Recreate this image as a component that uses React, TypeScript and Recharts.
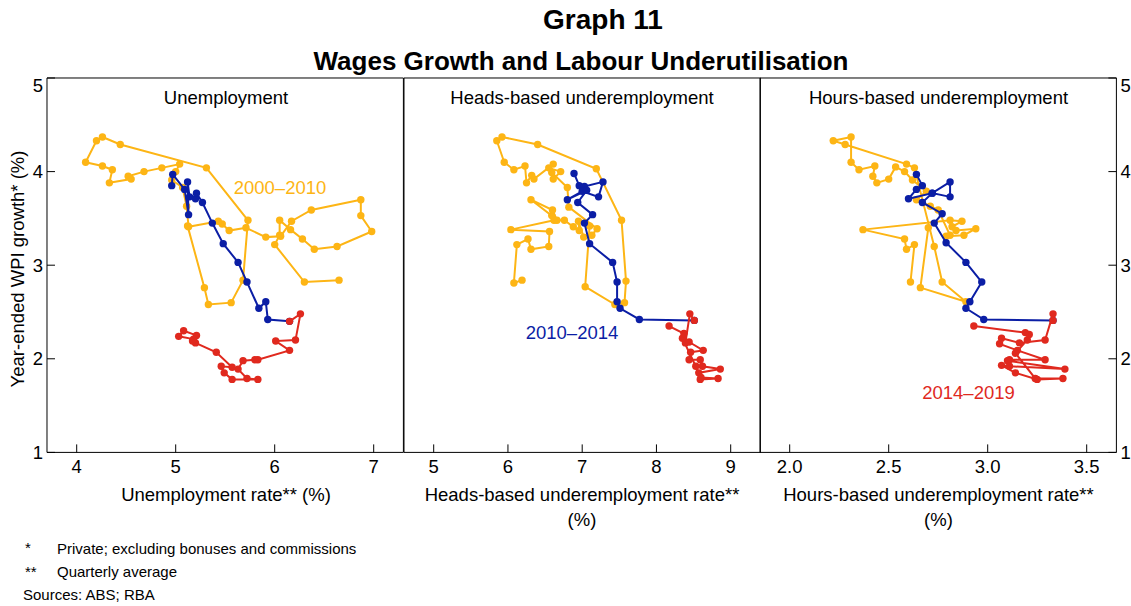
import React from 'react';
import { ScatterChart, Scatter, XAxis, YAxis, ReferenceArea } from 'recharts';

type Pt = { x: number; y: number };
const pts = (a: number[][]): Pt[] => a.map(([x, y]) => ({ x, y }));

const ORANGE = '#FDB515';
const BLUE = '#0B1EA5';
const RED = '#E0291E';
const FONT = 'Arial, "Liberation Sans", Helvetica, sans-serif';

// y axis shared by all panels
const wpiTicks = [1, 2, 3, 4, 5];

// x axis ticks
const unempTicks = [4, 5, 6, 7];
const headsTicks = [5, 6, 7, 8, 9];
const hoursTicks = [2.0, 2.5, 3.0, 3.5];

// Unemployment panel: [rate, WPI growth]
const unemp2000 = pts([
  [6.65, 2.84], [6.3, 2.82], [6.0, 3.22], [6.05, 3.32], [6.05, 3.48], [6.16, 3.38], [6.28, 3.28], [6.4, 3.17],
  [6.63, 3.2], [6.98, 3.36], [6.87, 3.53], [6.87, 3.7], [6.37, 3.59], [6.17, 3.47], [6.06, 3.31], [5.91, 3.3],
  [5.71, 3.4], [5.54, 3.37], [5.47, 3.44], [5.43, 3.47], [5.13, 3.41], [5.11, 3.63], [5.07, 3.83], [4.96, 3.91],
  [5.0, 4.0], [5.04, 4.08], [4.86, 4.04], [4.68, 4.0], [4.52, 3.95], [4.55, 3.92], [4.33, 3.88], [4.36, 4.02],
  [4.26, 4.06], [4.09, 4.1], [4.2, 4.33], [4.26, 4.37], [4.44, 4.29], [5.31, 4.04], [5.73, 3.48], [5.68, 2.84],
  [5.56, 2.6], [5.33, 2.58], [5.29, 2.76], [5.12, 3.42],
]);
const unemp2010 = pts([
  [4.96, 3.85], [4.97, 3.97], [5.09, 3.81], [5.13, 3.54], [5.12, 3.89], [5.14, 3.73], [5.2, 3.71], [5.21, 3.77],
  [5.27, 3.67], [5.37, 3.45], [5.48, 3.23], [5.63, 3.03], [5.72, 2.82], [5.84, 2.54], [5.91, 2.61], [5.93, 2.42],
  [6.15, 2.4],
]);
const unemp2014 = pts([
  [6.15, 2.4], [6.26, 2.48], [6.21, 2.2], [6.01, 2.19], [6.15, 2.09], [5.83, 1.99], [5.8, 1.99], [5.68, 1.98],
  [5.63, 1.89], [5.72, 1.79], [5.83, 1.78], [5.57, 1.78], [5.49, 1.85], [5.46, 1.92], [5.57, 1.91], [5.41, 2.07],
  [5.2, 2.17], [5.17, 2.19], [5.21, 2.25], [5.08, 2.3], [5.03, 2.24], [5.18, 2.21],
]);

// Heads-based underemployment panel
const heads2000 = pts([
  [6.19, 2.84], [6.08, 2.81], [6.12, 3.22], [6.27, 3.28], [6.31, 3.17], [6.55, 3.2], [6.56, 3.36], [6.04, 3.38],
  [6.62, 3.48], [6.59, 3.53], [6.31, 3.7], [6.6, 3.59], [6.66, 3.48], [6.76, 3.48], [6.88, 3.41], [6.96, 3.37],
  [6.95, 3.47], [7.02, 3.3], [7.13, 3.32], [7.2, 3.39], [6.82, 3.62], [6.8, 3.83], [6.59, 3.99], [6.61, 3.92],
  [6.71, 4.0], [6.55, 4.04], [6.61, 4.08], [6.35, 3.92], [6.32, 3.96], [6.25, 3.88], [6.23, 4.06], [6.08, 4.02],
  [5.95, 4.1], [5.85, 4.33], [5.92, 4.37], [6.4, 4.29], [7.19, 4.03], [7.53, 3.48], [7.59, 2.83], [7.57, 2.6],
  [7.44, 2.58], [7.04, 2.77], [7.1, 3.42],
]);
const heads2010 = pts([
  [6.89, 3.98], [6.96, 3.85], [7.03, 3.84], [7.28, 3.89], [7.22, 3.73], [7.0, 3.79], [6.8, 3.7], [7.06, 3.8],
  [6.94, 3.67], [7.14, 3.54], [7.03, 3.45], [7.1, 3.23], [7.41, 3.03], [7.47, 2.82], [7.47, 2.61], [7.51, 2.54],
  [7.77, 2.42], [8.51, 2.41],
]);
const heads2014 = pts([
  [8.51, 2.41], [8.45, 2.48], [8.39, 2.17], [8.44, 2.18], [8.63, 2.09], [8.46, 2.07], [8.44, 1.99], [8.59, 1.99],
  [8.62, 1.92], [8.86, 1.89], [8.57, 1.85], [8.53, 1.92], [8.59, 1.78], [8.83, 1.79], [8.6, 1.8], [8.35, 2.22],
  [8.37, 2.27], [8.17, 2.35],
]);

// Hours-based underemployment panel
const hours2000 = pts([
  [2.61, 2.82], [2.63, 3.22], [2.59, 3.17], [2.58, 3.28], [2.37, 3.38], [2.81, 3.48], [2.87, 3.47], [2.82, 3.41],
  [2.84, 3.37], [2.94, 3.39], [2.88, 3.32], [2.79, 3.31], [2.81, 3.32], [2.75, 3.59], [2.71, 3.63], [2.64, 3.7],
  [2.69, 3.79], [2.62, 3.91], [2.58, 4.0], [2.535, 4.05], [2.5, 3.92], [2.44, 3.88], [2.42, 3.95], [2.43, 4.06],
  [2.35, 4.02], [2.31, 4.1], [2.31, 4.37], [2.22, 4.33], [2.28, 4.29], [2.59, 4.08], [2.63, 4.04], [2.73, 3.2],
  [2.77, 2.82], [2.89, 2.61], [2.66, 2.76], [2.7, 3.4],
]);
const hours2010 = pts([
  [2.64, 3.97], [2.67, 3.85], [2.64, 3.81], [2.6, 3.71], [2.72, 3.77], [2.81, 3.89], [2.81, 3.73], [2.72, 3.77],
  [2.67, 3.67], [2.77, 3.55], [2.73, 3.45], [2.79, 3.24], [2.89, 3.03], [2.97, 2.82], [2.91, 2.61], [2.89, 2.54],
  [2.98, 2.42], [3.33, 2.41],
]);
const hours2014 = pts([
  [3.33, 2.41], [3.33, 2.48], [3.29, 2.2], [3.16, 2.17], [3.07, 2.22], [3.06, 2.16], [3.15, 2.09], [3.29, 1.99],
  [3.11, 1.99], [3.1, 1.98], [3.39, 1.89], [3.11, 1.92], [3.07, 1.93], [3.14, 1.85], [3.25, 1.78], [3.38, 1.79],
  [3.24, 1.79], [3.14, 2.06], [3.2, 2.2], [3.21, 2.26], [3.19, 2.28], [2.93, 2.35],
]);

const dot = (color: string) => (p: any) => <circle cx={p.cx} cy={p.cy} r={3.7} fill={color} />;

const XTick = (p: any) => {
  const { x, y, payload, fmt } = p;
  return (
    <g>
      <line x1={x} x2={x} y1={y} y2={y - 8} stroke="#000" />
      <text x={x} y={y + 21} textAnchor="middle" fontSize={18.5} fontFamily={FONT} fill="#000">
        {fmt(payload.value)}
      </text>
    </g>
  );
};

const YTick = (p: any) => {
  const { x, y, payload, side } = p;
  const dir = side === 'right' ? -1 : 1;
  // the top label sits just inside the frame, as in the original
  const ty = payload.value === 5 ? y + 8 : y;
  return (
    <g>
      <line x1={x} x2={x + dir * 8} y1={y} y2={y} stroke="#000" />
      <text
        x={x - dir * 4}
        y={ty}
        dy="0.35em"
        textAnchor={side === 'right' ? 'start' : 'end'}
        fontSize={18.5}
        fontFamily={FONT}
        fill="#000"
      >
        {payload.value}
      </text>
    </g>
  );
};

interface PanelProps {
  left: number;
  domain: [number, number];
  ticks: number[];
  fmt: (v: number) => string;
  orange: Pt[];
  blue: Pt[];
  red: Pt[];
  yAxis: 'left' | 'right' | 'none';
}

const PW = 356.4;

const Panel: React.FC<PanelProps> = ({ left, domain, ticks, fmt, orange, blue, red, yAxis }) => {
  const margin = {
    top: 10,
    bottom: 10,
    left: yAxis === 'left' ? 10 : 45,
    right: yAxis === 'right' ? 10 : 45,
  };
  return (
    <div style={{ position: 'absolute', left: left - 45, top: 68.3 }}>
      <ScatterChart width={PW + 90} height={424.4} margin={margin}>
        <XAxis
          type="number"
          dataKey="x"
          domain={domain}
          ticks={ticks}
          interval={0}
          allowDataOverflow
          axisLine={false}
          tickLine={false}
          tickSize={0}
          tickMargin={0}
          height={30}
          tick={(p: any) => <XTick {...p} fmt={fmt} />}
        />
        <YAxis
          type="number"
          dataKey="y"
          domain={[1, 5]}
          ticks={wpiTicks}
          interval={0}
          allowDataOverflow
          hide={yAxis === 'none'}
          orientation={yAxis === 'right' ? 'right' : 'left'}
          width={35}
          axisLine={false}
          tickLine={false}
          tickSize={0}
          tickMargin={0}
          tick={(p: any) => <YTick {...p} side={yAxis} />}
        />
        <ReferenceArea x1={domain[0]} x2={domain[1]} y1={1} y2={5} fill="none" stroke="#000" strokeWidth={1} />
        <Scatter data={orange} fill={ORANGE} line={{ stroke: ORANGE, strokeWidth: 2 }} shape={dot(ORANGE)} isAnimationActive={false} />
        <Scatter data={blue} fill={BLUE} line={{ stroke: BLUE, strokeWidth: 2 }} shape={dot(BLUE)} isAnimationActive={false} />
        <Scatter data={red} fill={RED} line={{ stroke: RED, strokeWidth: 2 }} shape={dot(RED)} isAnimationActive={false} />
      </ScatterChart>
    </div>
  );
};

const intFmt = (v: number) => String(v);
const oneDp = (v: number) => v.toFixed(1);

const T = (props: any) => <text fontFamily={FONT} fill="#000" {...props} />;

export default function App() {
  return (
    <div style={{ position: 'absolute', left: 0, top: 0, width: 1131, height: 606, background: '#fff', overflow: 'hidden' }}>
      <Panel left={47.3} domain={[3.7, 7.3]} ticks={unempTicks} fmt={intFmt} orange={unemp2000} blue={unemp2010} red={unemp2014} yAxis="left" />
      <Panel left={47.3 + PW} domain={[4.6, 9.4]} ticks={headsTicks} fmt={intFmt} orange={heads2000} blue={heads2010} red={heads2014} yAxis="none" />
      <Panel left={47.3 + 2 * PW} domain={[1.85, 3.65]} ticks={hoursTicks} fmt={oneDp} orange={hours2000} blue={hours2010} red={hours2014} yAxis="right" />

      <svg width={1131} height={606} style={{ position: 'absolute', left: 0, top: 0, pointerEvents: 'none' }}>
        <T x={603} y={29} textAnchor="middle" fontSize={28} fontWeight="bold">Graph 11</T>
        <T x={581} y={70} textAnchor="middle" fontSize={26} fontWeight="bold">Wages Growth and Labour Underutilisation</T>

        <T x={226} y={104} textAnchor="middle" fontSize={18.5}>Unemployment</T>
        <T x={582} y={104} textAnchor="middle" fontSize={18.5}>Heads-based underemployment</T>
        <T x={938.5} y={104} textAnchor="middle" fontSize={18.5}>Hours-based underemployment</T>

        <T x={280} y={193.5} textAnchor="middle" fontSize={18.5} fill={ORANGE}>2000–2010</T>
        <T x={572} y={338.5} textAnchor="middle" fontSize={18.5} fill={BLUE}>2010–2014</T>
        <T x={968.5} y={399} textAnchor="middle" fontSize={18.5} fill={RED}>2014–2019</T>

        <T x={24} y={269} textAnchor="middle" fontSize={18.5} transform="rotate(-90 24 269)">Year-ended WPI growth* (%)</T>

        <T x={226} y={501} textAnchor="middle" fontSize={18.5}>Unemployment rate** (%)</T>
        <T x={582} y={501} textAnchor="middle" fontSize={18.5}>Heads-based underemployment rate**</T>
        <T x={582} y={526} textAnchor="middle" fontSize={18.5}>(%)</T>
        <T x={938.5} y={501} textAnchor="middle" fontSize={18.5}>Hours-based underemployment rate**</T>
        <T x={938.5} y={526} textAnchor="middle" fontSize={18.5}>(%)</T>

        <T x={25} y={553} fontSize={15}>*</T>
        <T x={57} y={554} fontSize={15}>Private; excluding bonuses and commissions</T>
        <T x={25} y={577} fontSize={15}>**</T>
        <T x={57} y={577} fontSize={15}>Quarterly average</T>
        <T x={23} y={600} fontSize={15}>Sources: ABS; RBA</T>
      </svg>
    </div>
  );
}
